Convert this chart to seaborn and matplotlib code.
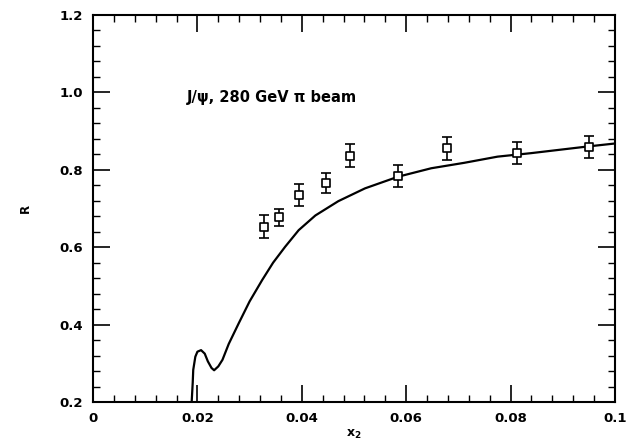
import matplotlib
matplotlib.use("Agg")
import matplotlib.pyplot as plt
import seaborn as sns
import pandas as pd
from matplotlib.ticker import MultipleLocator

# data points (x2, R, error)
x2_data = [0.0327, 0.0357, 0.0394, 0.0447, 0.0493, 0.0584, 0.0679, 0.0813, 0.0951]
r_data = [0.653, 0.677, 0.735, 0.765, 0.836, 0.784, 0.856, 0.844, 0.859]
r_err = [0.029, 0.023, 0.029, 0.026, 0.030, 0.029, 0.030, 0.029, 0.029]

# theory curve
curve_x = [0.0189, 0.0191, 0.0192, 0.0196, 0.0200, 0.0207, 0.0214, 0.0220, 0.0227,
           0.0232, 0.0240, 0.0248, 0.0260, 0.0279, 0.0300, 0.0324, 0.0345, 0.0368,
           0.0394, 0.0426, 0.0470, 0.0521, 0.0584, 0.0648, 0.0711, 0.0775, 0.0839,
           0.0946, 0.1000]
curve_r = [0.200, 0.250, 0.283, 0.317, 0.330, 0.334, 0.325, 0.305, 0.288,
           0.282, 0.292, 0.309, 0.350, 0.403, 0.460, 0.515, 0.560, 0.601,
           0.644, 0.682, 0.719, 0.752, 0.782, 0.804, 0.818, 0.834, 0.843,
           0.860, 0.868]

x_ticks = [0, 0.02, 0.04, 0.06, 0.08, 0.1]
x_ticklabels = ["0", "0.02", "0.04", "0.06", "0.08", "0.1"]
y_ticks = [0.2, 0.4, 0.6, 0.8, 1.0, 1.2]
y_ticklabels = ["0.2", "0.4", "0.6", "0.8", "1.0", "1.2"]

sns.set_style("ticks")
plt.rcParams['font.family'] = ['DejaVu Sans']

fig = plt.figure(figsize=(6.26, 4.44), dpi=100)
ax = fig.add_axes([0.1486, 0.0946, 0.8338, 0.8716])

df_curve = pd.DataFrame({"x": curve_x, "r": curve_r})
sns.lineplot(data=df_curve, x="x", y="r", ax=ax, color="black", lw=1.6,
             estimator=None, sort=False)

ax.errorbar(x2_data, r_data, yerr=r_err, fmt="none", ecolor="black",
            elinewidth=1.2, capsize=3.5, capthick=1.2, zorder=3)
df_pts = pd.DataFrame({"x": x2_data, "r": r_data})
sns.scatterplot(data=df_pts, x="x", y="r", ax=ax, marker="s", s=40,
                facecolor="white", edgecolor="black", linewidth=1.2, zorder=4)

ax.set_xlim(0, 0.1)
ax.set_ylim(0.2, 1.2)
ax.set_xticks(x_ticks)
ax.set_xticklabels(x_ticklabels, fontsize=9.5, fontweight="bold", color="black")
ax.set_yticks(y_ticks)
ax.set_yticklabels(y_ticklabels, fontsize=9.5, fontweight="bold", color="black")
ax.xaxis.set_minor_locator(MultipleLocator(0.004))
ax.yaxis.set_minor_locator(MultipleLocator(0.04))
ax.tick_params(which="both", direction="in", top=True, right=True, color="black")
ax.tick_params(which="major", length=12, width=1.2, pad=7)
ax.tick_params(which="minor", length=5, width=1.0)
for s in ax.spines.values():
    s.set_linewidth(1.5)
    s.set_color("black")

ax.set_xlabel(r"$\mathbf{x_2}$", fontsize=9, labelpad=2, color="black")
ax.set_ylabel("R", fontsize=8.5, fontweight="bold", labelpad=20, color="black")

ax.text(0.0179, 0.988, "J/ψ, 280 GeV π beam", fontsize=10.5, fontweight="bold",
        va="center", ha="left", color="black")

fig.savefig("out.png", dpi=100)
